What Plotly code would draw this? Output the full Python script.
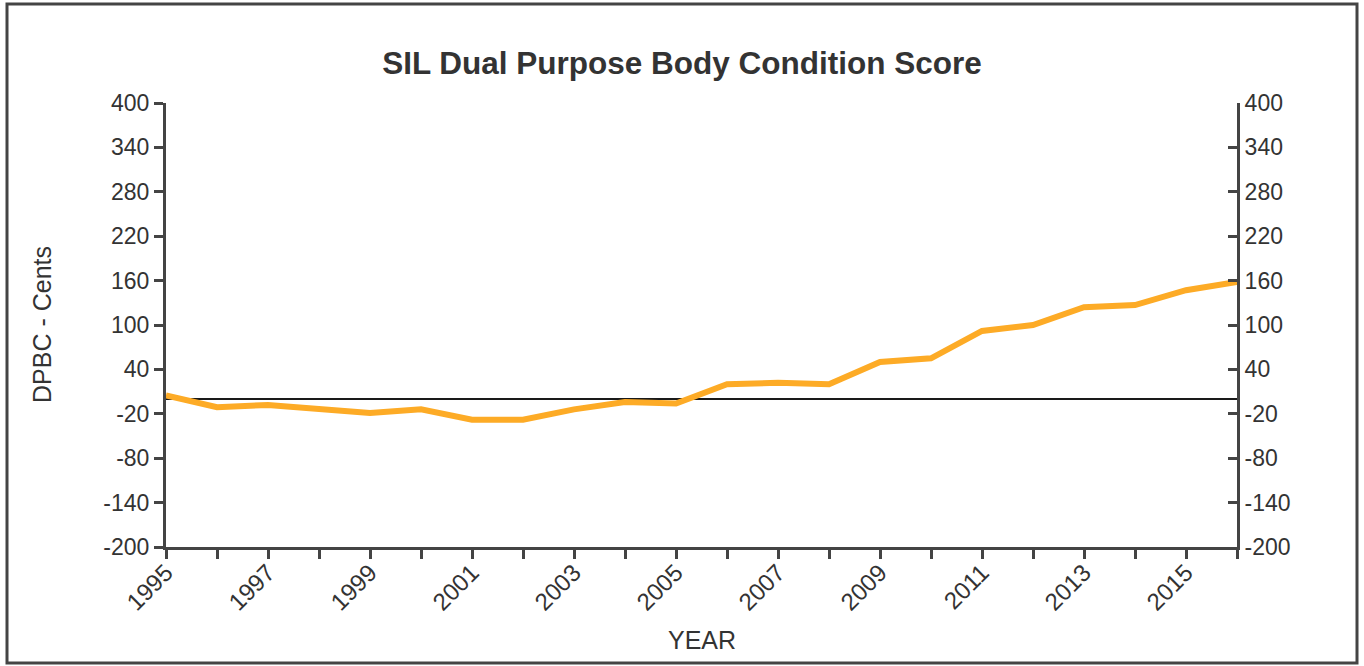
import plotly.graph_objects as go

years = list(range(1995, 2017))
dpbc = [5, -11, -8, -14, -19, -14, -28, -28, -14, -4, -6, 20, 22, 20, 50, 55, 92, 100, 124, 127, 147, 158]
y_ticks = [-200, -140, -80, -20, 40, 100, 160, 220, 280, 340, 400]
y_labels = [str(v) for v in y_ticks]
x_labels = [str(y) if y % 2 == 1 else "" for y in years]

title_text = "SIL Dual Purpose Body Condition Score"
x_title = "YEAR"
y_title = "DPBC - Cents"

axcol = "#444444"
txtcol = "#333333"
font = "Liberation Sans, Arial, sans-serif"

fig = go.Figure()
fig.add_trace(go.Scatter(x=years, y=dpbc, mode="lines",
                         line=dict(color="#FDAB26", width=6), showlegend=False))
fig.add_trace(go.Scatter(x=years, y=dpbc, mode="lines", yaxis="y2",
                         line=dict(color="rgba(0,0,0,0)", width=0),
                         hoverinfo="skip", showlegend=False))

W, H = 1364, 666
L, R, T, B = 166, 127, 103, 119
PW, PH = W - L - R, H - T - B
fig.update_layout(
    width=W, height=H,
    margin=dict(l=L, r=R, t=T, b=B),
    paper_bgcolor="white", plot_bgcolor="white",
    font=dict(family=font, color=txtcol, size=23),
    title=dict(text="<b>" + title_text + "</b>", x=0.5, xanchor="center",
               y=1 - 63 / H, yanchor="middle",
               font=dict(size=31.5, color=txtcol, family=font)),
    xaxis=dict(range=[1995, 2016], tickvals=years, ticktext=x_labels,
               tickangle=-45, showgrid=False, zeroline=False,
               showline=True, linecolor=axcol, linewidth=3,
               ticks="outside", ticklen=9, tickwidth=3, tickcolor=axcol,
               ticklabelstandoff=-10,
               tickfont=dict(size=24, color=txtcol)),
    yaxis=dict(range=[-200, 400], tickvals=y_ticks, ticktext=y_labels, showgrid=False,
               zeroline=True, zerolinecolor="#1a1a1a", zerolinewidth=2,
               showline=True, linecolor=axcol, linewidth=3,
               ticks="outside", ticklen=9, tickwidth=3, tickcolor=axcol,
               tickfont=dict(size=23, color=txtcol)),
    yaxis2=dict(range=[-200, 400], tickvals=y_ticks, ticktext=y_labels,
                overlaying="y", side="right",
                showgrid=False, zeroline=False,
                showline=True, linecolor=axcol, linewidth=3,
                ticks="inside", ticklen=9, tickwidth=3, tickcolor=axcol,
                tickfont=dict(size=23, color=txtcol)),
)

fig.add_annotation(text=x_title, xref="paper", yref="paper", x=0.5, y=(547 - 640) / PH,
                   xanchor="center", yanchor="middle", showarrow=False,
                   font=dict(size=25, color=txtcol))
fig.add_annotation(text=y_title, xref="paper", yref="paper", x=(42 - L) / PW, y=(547 - 325) / PH,
                   xanchor="center", yanchor="middle", showarrow=False, textangle=-90,
                   font=dict(size=25, color=txtcol))

fig.add_shape(type="rect", xref="paper", yref="paper",
              x0=(7 - L) / PW, x1=(1357 - L) / PW,
              y0=(547 - 663) / PH, y1=(547 - 4) / PH,
              line=dict(color="#444444", width=3), layer="below")

fig.write_html("out.html", config={"displayModeBar": False},
               post_script="document.body.style.margin='0';document.body.style.overflow='hidden';")
